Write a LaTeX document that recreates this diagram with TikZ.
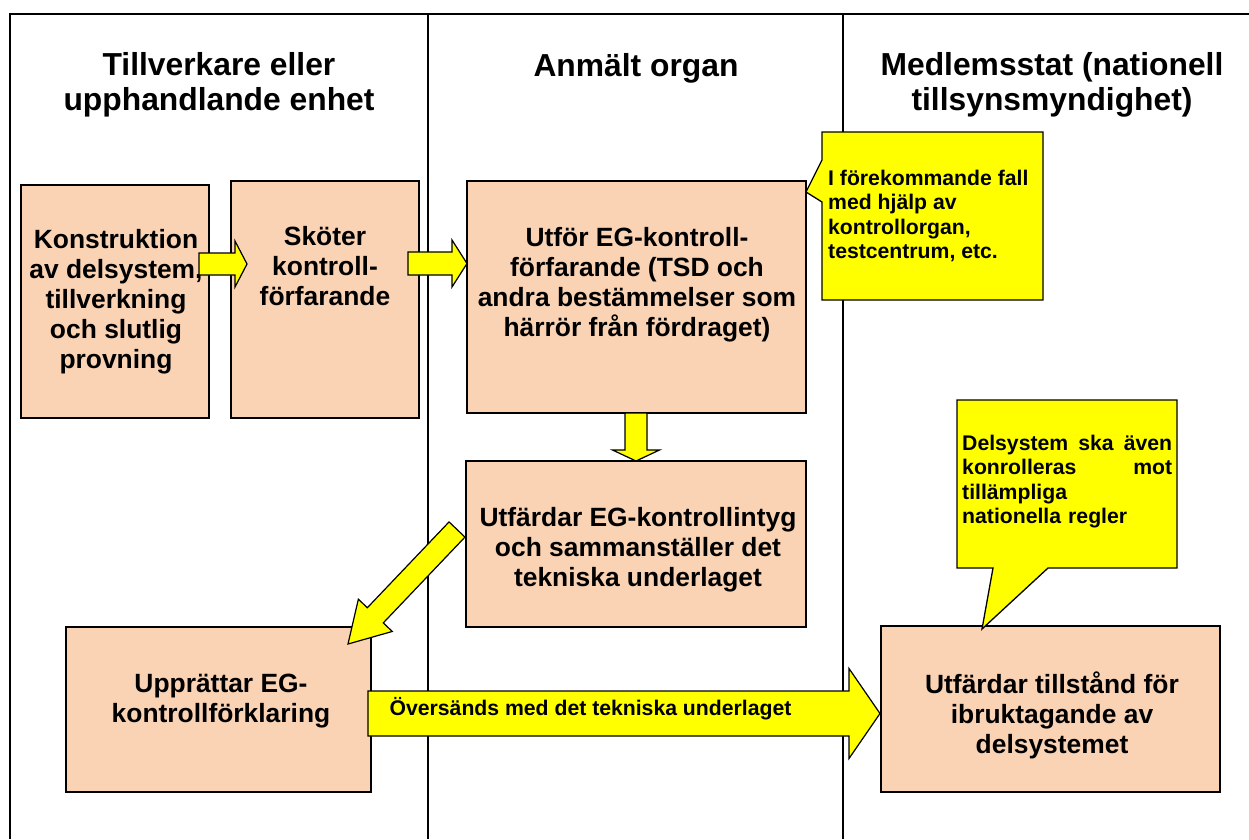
\documentclass[tikz,border=0pt]{standalone}
\usepackage{fontspec}
\setmainfont{Liberation Sans}
\usetikzlibrary{calc}
\definecolor{peach}{RGB}{250,211,180}
\definecolor{yel}{RGB}{255,255,0}
\tikzset{
  framel/.style={line width=2pt, draw=black},
  boxn/.style={draw=black, line width=1.4pt, fill=peach, inner sep=0pt},
  btxt/.style={font=\bfseries\fontsize{26.4}{30}\selectfont, align=center, inner sep=0pt},
  htxt/.style={font=\bfseries\fontsize{31.8}{35}\selectfont, align=center, inner sep=0pt},
  ctxt/.style={font=\bfseries\fontsize{21.2}{24.4}\selectfont, align=left, inner sep=0pt},
  yarrow/.style={draw=black, line width=1.2pt, fill=yel, line join=miter},
  calloutp/.style={draw=black, line width=1.3pt, fill=yel, line join=miter},
}
% block arrow: [opts]{from}{to}{body half width}{head half width}{head length}
\newcommand\blockarrow[6][]{%
  \coordinate (ban) at ($(#3)!#6!(#2)$);
  \draw[yarrow,#1] ($(#2)!#4!90:(#3)$) -- ($(ban)!#4!90:(#3)$) -- ($(ban)!#5!90:(#3)$)
    -- (#3) -- ($(ban)!#5!-90:(#3)$) -- ($(ban)!#4!-90:(#3)$) -- ($(#2)!#4!-90:(#3)$) -- cycle;
}
\begin{document}
\begin{tikzpicture}[x=1pt,y=-1pt]
\useasboundingbox (0,0) rectangle (1249,839);
% frame and column lines
\draw[framel] (1249,14) -- (10,14) -- (10,839);
\draw[framel, line width=2.7pt] (428,14) -- (428,839);
\draw[framel] (843,14) -- (843,839);
% headers
\node[htxt] (h1) at (219,85) {Tillverkare eller\\upphandlande enhet};
\node[htxt] (h2) at (636,68) {Anmält organ};
\node[htxt] (h3) at (1052,85) {Medlemsstat (nationell\\tillsynsmyndighet)};
% boxes
\node[boxn, minimum width=188pt, minimum height=233pt] (b1) at (115,301.5) {};
\node[btxt] (t1) at (116,301.5) {Konstruktion\\av delsystem,\\tillverkning\\och slutlig\\provning};
\node[boxn, minimum width=188pt, minimum height=237pt] (b2) at (325,299.5) {};
\node[btxt] (t2) at (325,266.5) {Sköter\\kontroll-\\förfarande};
\node[boxn, minimum width=339pt, minimum height=232pt] (b3) at (636.5,297) {};
\node[btxt] (t3) at (637,285) {Utför EG-kontroll-\\förfarande (TSD och\\andra bestämmelser som\\härrör från fördraget)};
\node[boxn, minimum width=340pt, minimum height=166pt] (b4) at (636,544) {};
\node[btxt] (t4) at (638,550) {Utfärdar EG-kontrollintyg\\och sammanställer det\\tekniska underlaget};
\node[boxn, minimum width=305pt, minimum height=165pt] (b5) at (218.5,709.5) {};
\node[btxt] (t5) at (221,701) {Upprättar EG-\\kontrollförklaring};
\node[boxn, minimum width=339pt, minimum height=166pt] (b6) at (1050.5,709) {};
\node[btxt] (t6) at (1052,715) {Utfärdar tillstånd för\\ibruktagande av\\delsystemet};
% arrow end points
\coordinate (a1s) at (199,264);
\coordinate (a1e) at (247,264);
\coordinate (a2s) at (408,263.5);
\coordinate (a2e) at (467,263.5);
\coordinate (a3s) at (636,413);
\coordinate (a3e) at (636,461);
\coordinate (a4s) at (457,529.5);
\coordinate (a4e) at (348,644);
\coordinate (a5s) at (368,713.5);
\coordinate (a5e) at (880,713.5);
% block arrows
\blockarrow{a1s}{a1e}{11pt}{23pt}{12pt}
\blockarrow{a2s}{a2e}{11.5pt}{23.5pt}{15pt}
\blockarrow{a3s}{a3e}{11pt}{23.5pt}{11pt}
\blockarrow{a4s}{a4e}{11pt}{23.4pt}{39.6pt}
\blockarrow{a5s}{a5e}{22.5pt}{45pt}{31pt}
\node[ctxt] (l5) at (590.5,708.5) {Översänds med det tekniska underlaget};
% callouts
\path[calloutp] (822,132) -- (1043,132) -- (1043,300) -- (822,300) -- (822,202) -- (806,192) -- (822,160) -- cycle;
\node[ctxt, anchor=north west] (c1) at (828,170) {I förekommande fall\\med hjälp av\\kontrollorgan,\\testcentrum, etc.};
\path[calloutp] (957,400) -- (1177,400) -- (1177,568) -- (1048,568) -- (982,629) -- (993,568) -- (957,568) -- cycle;
\node[ctxt, anchor=north west, text width=210pt] (c2) at (962,435) {Delsystem\hfill ska\hfill även\\konrolleras\hfill mot\\tillämpliga\\nationella regler};
\end{tikzpicture}
\end{document}
